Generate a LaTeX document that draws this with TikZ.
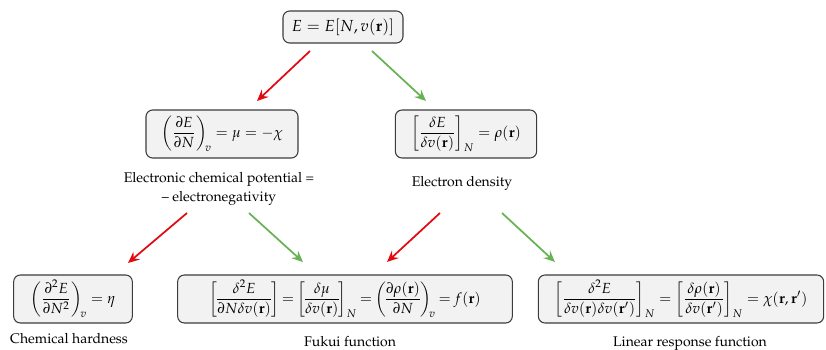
\documentclass[tikz,border=0pt]{standalone}
\usepackage[T1]{fontenc}
\usepackage{mathpazo}
\usepackage{amsmath,amssymb}
\usepackage{xcolor}
\usepackage{tikz}
\usetikzlibrary{arrows.meta,positioning}
\definecolor{boxgray}{RGB}{242,242,242}
\definecolor{edgegray}{RGB}{60,60,60}
\definecolor{arrred}{RGB}{226,10,18}
\definecolor{arrgreen}{RGB}{104,178,84}
\newcommand{\rr}{\mathbf{r}}

\begin{document}
\begin{tikzpicture}[
  x=0.75pt,y=-0.75pt,
  eqbox/.style={draw=edgegray,line width=0.8pt,rounded corners=5pt,fill=boxgray,inner sep=1pt,minimum height=36pt,font=\fontsize{11}{13}\selectfont},
  caption/.style={align=center,inner sep=0pt,font=\fontsize{10.5}{12.5}\selectfont},
  redarr/.style={-{Stealth[length=8.5pt,width=7.5pt,inset=3pt]},line width=1.3pt,arrred},
  greenarr/.style={-{Stealth[length=8.5pt,width=7.5pt,inset=3pt]},line width=1.3pt,arrgreen}
]
\useasboundingbox (0,0) rectangle (826,350);
% equation boxes
\node[eqbox,minimum width=90pt,minimum height=24pt,font=\fontsize{12}{14}\selectfont] (energy) at (343,27) {$E=E[N,v(\rr)]$};
\node[eqbox,minimum width=114pt] (mu) at (222,134)
  {$\displaystyle\left(\frac{\partial E}{\partial N}\right)_{\!v}=\mu=-\chi$};
\node[eqbox,minimum width=106pt] (rho) at (466,134)
  {$\displaystyle\left[\frac{\delta E}{\delta v(\rr)}\right]_{N}=\rho(\rr)$};
\node[eqbox,minimum width=89pt] (eta) at (73,299)
  {$\displaystyle\left(\frac{\partial^2 E}{\partial N^2}\right)_{\!v}=\eta$};
\node[eqbox,minimum width=251pt] (fukui) at (345,299)
  {$\thickmuskip=3.5mu\nulldelimiterspace=0pt\displaystyle\left[\frac{\delta^2 E}{\partial N\delta v(\rr)}\right]=\left[\frac{\delta\mu}{\delta v(\rr)}\right]_{N}=\left(\frac{\partial\rho(\rr)}{\partial N}\right)_{\!v}=f(\rr)$};
\node[eqbox,minimum width=214pt] (chi) at (681,299)
  {$\displaystyle\left[\frac{\delta^2 E}{\delta v(\rr)\delta v(\rr')}\right]_{N}=\left[\frac{\delta\rho(\rr)}{\delta v(\rr')}\right]_{N}=\chi(\rr,\rr')$};
% captions
\node[caption] (muname) at (219,189) {Electronic chemical potential =\\[2pt] -- electronegativity};
\node[caption] (rhoname) at (462,183) {Electron density};
\node[caption] (etaname) at (69,339) {Chemical hardness};
\node[caption] (fukuiname) at (350,342) {Fukui function};
\node[caption] (chiname) at (690,343) {Linear response function};
% arrow ends
\coordinate (a1s) at (310,51);  \coordinate (a1e) at (257,101);
\coordinate (a2s) at (372,51);  \coordinate (a2e) at (426,101);
\coordinate (a3s) at (187,213); \coordinate (a3e) at (128,263);
\coordinate (a4s) at (249,213); \coordinate (a4e) at (303,262);
\coordinate (a5s) at (440,213); \coordinate (a5e) at (387,262);
\coordinate (a6s) at (502,213); \coordinate (a6e) at (555,262);
\draw[redarr] (a1s) -- (a1e);
\draw[greenarr] (a2s) -- (a2e);
\draw[redarr] (a3s) -- (a3e);
\draw[greenarr] (a4s) -- (a4e);
\draw[redarr] (a5s) -- (a5e);
\draw[greenarr] (a6s) -- (a6e);
\end{tikzpicture}
\end{document}
